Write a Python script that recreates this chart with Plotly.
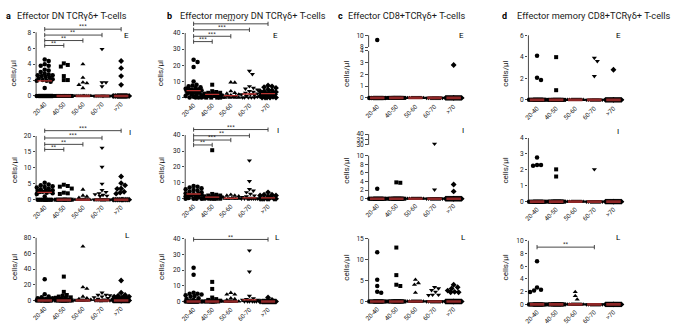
import plotly.graph_objects as go
import numpy as np

# ---------------- data ----------------
categories = ["20-40", "40-50", "50-60", "60-70", ">70"]
symbols = ["circle", "square", "triangle-up", "triangle-down", "diamond"]

titles = ["Effector DN TCRγδ+ T-cells", "Effector memory DN TCRγδ+ T-cells",
          "Effector CD8+TCRγδ+ T-cells", "Effector memory CD8+TCRγδ+ T-cells"]
letters = ["a", "b", "c", "d"]
tissue_tags = ["E", "I", "L"]

# non-zero values per age group ; number of zero values per age group
aE = [[4.6, 4.4, 4.0, 3.8, 3.8, 3.3, 3.2, 3.0, 2.8, 2.7, 2.6, 2.6, 2.5, 2.4, 2.3, 2.2, 2.1, 2.0, 1.9, 1.9, 1.8, 1.0],
      [4.1, 3.9, 3.7, 2.5, 2.0, 2.0],
      [4.0, 2.3, 1.7, 1.6, 1.4, 1.0],
      [5.9, 1.7, 1.7, 1.2],
      [4.4, 3.5, 2.5, 1.4]]
aE_zeros = [16, 10, 10, 10, 14]
aI = [[5.3, 4.8, 4.5, 4.2, 4.0, 3.8, 3.5, 3.3, 3.0, 3.0, 2.8, 2.6, 2.5, 2.4, 2.2, 2.0, 1.8, 1.0],
      [4.7, 4.3, 4.1, 3.5, 2.2, 2.0, 1.8],
      [3.2, 1.3, 1.0, 0.6],
      [16.3, 10.3, 5.0, 3.0, 2.4, 2.0, 1.7, 1.5, 1.2, 1.1],
      [7.3, 5.2, 4.5, 3.5, 3.4, 2.5, 2.2, 1.9]]
aI_zeros = [10, 10, 10, 12, 10]
aL = [[27, 8, 5, 4, 3, 3, 2, 2, 1.5, 1],
      [30.5, 11, 7, 6, 5, 4, 3.5, 3, 2, 1.5, 1],
      [69, 17, 15, 5, 3, 2, 1],
      [10, 7, 7, 6.5, 5, 4, 3, 2, 1],
      [25.5, 10, 7, 6, 5, 5, 4, 4, 3, 3, 2.5, 2, 2, 1.5, 1, 1, 0.5]]
aL_zeros = [12, 13, 9, 10, 19]

bE = [[23.5, 22, 19, 10, 8, 7.5, 7, 6.5, 6, 5.5, 5, 5, 4.8, 4.5, 4.5, 4.2, 4, 3.5, 3, 3, 2.5, 2, 2, 1.5, 1, 0.5],
      [8, 4, 3.5, 3, 3, 2.5, 2.5, 2, 2, 2, 1.5, 1, 1, 0.5],
      [9.5, 9.3, 4, 3, 2.5, 2, 1.5, 1.5, 1, 1, 0.5],
      [16.5, 14.5, 7, 6, 5.5, 5, 4, 3.5, 3, 2.5, 2, 2, 1.5, 1, 0.5],
      [7.5, 7, 6.5, 6, 5, 4.5, 4, 4, 3.5, 3, 3, 2.5, 2.5, 2, 2, 1.5, 1, 1, 0.5]]
bE_zeros = [4, 4, 5, 5, 5]
bI = [[8, 7.5, 7, 6.5, 6, 5.5, 5, 4.5, 4, 3.5, 3, 3, 2.5, 2.5, 2, 2, 1.5, 1, 0.5],
      [30.5, 3, 2.5, 2, 2, 1.5, 1.5, 1, 1, 0.5],
      [2.5, 2, 2, 1.5, 1, 0.5],
      [24, 11, 6, 5, 4, 3, 2, 1.5, 1, 0.5],
      [4, 2.5, 2.5, 2, 2, 1.5, 1]]
bI_zeros = [4, 6, 6, 9, 7]
bL = [[21.5, 17, 5.5, 5, 5, 4.5, 4, 3.5, 3, 2, 1.5, 1],
      [12.5, 8, 2.5, 1.5, 1, 0.5],
      [5.5, 4.5, 4.5, 2, 1.5, 1],
      [32.5, 19, 3.5, 2, 1.5, 1, 1, 1],
      [2.5, 1]]
bL_zeros = [14, 10, 10, 6, 16]

cE = [[9.2], [], [], [], [2.8]]
cE_zeros = [14, 14, 14, 14, 18]
cI = [[2.3], [3.8, 3.7], [], [31, 2.1], [3.3, 1.7]]
cI_zeros = [14, 14, 14, 14, 18]
cL = [[11.8, 5.2, 3.7, 2.3, 2.1], [12.9, 6.3, 4.0, 3.7], [5.2, 4.4, 4.0, 2.1],
      [3.4, 3.1, 2.7, 2.3, 1.6, 1.5, 1.6], [4.0, 3.4, 3.1, 2.6, 2.3, 2.2, 2.2]]
cL_zeros = [14, 14, 14, 14, 18]

dE = [[4.1, 2.05, 1.85], [3.97, 0.9], [], [3.9, 3.6, 2.2], [2.8]]
dE_zeros = [14, 14, 14, 14, 18]
dI = [[2.77, 2.3, 2.3, 2.25], [2.03, 1.58], [], [2.03], []]
dI_zeros = [14, 14, 14, 14, 18]
dL = [[6.8, 2.67, 2.3, 2.2, 1.95], [], [1.95, 1.33, 0.77], [], []]
dL_zeros = [14, 14, 14, 14, 18]

# significance: (compared group index vs 20-40, label)
sig_aE = [(1, "**"), (2, "**"), (3, "**"), (4, "***")]
sig_bE = [(1, "***"), (2, "***"), (3, "***"), (4, "***")]
sig_aI = [(1, "**"), (2, "**"), (3, "***"), (4, "***")]
sig_bI = [(1, "**"), (2, "***"), (3, "**"), (4, "***")]
sig_bL = [(4, "**")]
sig_dL = [(3, "**")]

# y tick values
yt_aE = [0, 2, 4, 6, 8]
yt_bE = [0, 10, 20, 30, 40]
yt_cE = [0, 1, 2, 3, 4]
yt_cE_up = [8, 10]
yt_dE = [0, 2, 4, 6]
yt_aI = [0, 5, 10, 15, 20]
yt_bI = [0, 10, 20, 30, 40]
yt_cI = [0, 2, 4, 6, 8, 10]
yt_cI_up = [30, 35, 40]
yt_dI = [0, 1, 2, 3, 4]
yt_aL = [0, 20, 40, 60, 80]
yt_bL = [0, 10, 20, 30, 40]
yt_cL = [0, 5, 10, 15]
yt_dL = [0, 2, 4, 6, 8, 10]

# ---------------- layout geometry ----------------
W, H = 675, 326
def X(px): return px / W
def Y(py): return 1 - py / H

FONT = "Liberation Sans Narrow, Roboto, Arial, sans-serif"
TXT = "#1a1a1a"
col_geom = {'a': (40, 19.25), 'b': (190, 18.75), 'c': (375, 19.25), 'd': (536, 19.25)}
XR = (-0.45, 4.55)

panels = [
    dict(col='a', data=aE, zeros=aE_zeros, y0=95, ppu=8.125, lo=-0.3, hi=8.75, tv=yt_aE, sig=sig_aE, bh=[6.35, 6.97, 7.66, 8.4], tag=0, tp=(122, 33)),
    dict(col='b', data=bE, zeros=bE_zeros, y0=96.7, ppu=1.65, lo=-1.2, hi=47.5, tv=yt_bE, sig=sig_bE, bh=[34.7, 38, 42, 45.7], tag=0, tp=(273, 33)),
    dict(col='c', data=cE, zeros=cE_zeros, y0=97, ppu=12, lo=-0.25, hi=4.1, tv=yt_cE, brk=dict(v0=8, p0=45, ppu=6, lo=7.9, hi=10.4, tv=yt_cE_up), tag=0, tp=(460, 33)),
    dict(col='d', data=dE, zeros=dE_zeros, y0=99, ppu=11, lo=-0.25, hi=6.5, tv=yt_dE, tag=0, tp=(618, 33)),
    dict(col='a', data=aI, zeros=aI_zeros, y0=201, ppu=3.25, lo=-0.6, hi=22.5, tv=yt_aI, sig=sig_aI, bh=[15.8, 17.4, 19.4, 21.7], tag=1, tp=(126, 132)),
    dict(col='b', data=bI, zeros=bI_zeros, y0=200, ppu=1.625, lo=-1.2, hi=45, tv=yt_bI, sig=sig_bI, bh=[33.8, 36.9, 39.6, 43.5], tag=1, tp=(275, 130)),
    dict(col='c', data=cI, zeros=cI_zeros, y0=200, ppu=4.4, lo=-0.35, hi=10.2, tv=yt_cI, brk=dict(v0=30, p0=145, ppu=1.1, lo=29.5, hi=41, tv=yt_cI_up), tag=1, tp=(461, 130)),
    dict(col='d', data=dI, zeros=dI_zeros, y0=203, ppu=16.25, lo=-0.12, hi=4.2, tv=yt_dI, tag=1, tp=(618, 131)),
    dict(col='a', data=aL, zeros=aL_zeros, y0=304, ppu=0.8, lo=-3, hi=84, tv=yt_aL, tag=2, tp=(123, 238)),
    dict(col='b', data=bL, zeros=bL_zeros, y0=305, ppu=1.6, lo=-1.5, hi=41.8, tv=yt_bL, sig=sig_bL, bh=[39.6], tag=2, tp=(275, 240)),
    dict(col='c', data=cL, zeros=cL_zeros, y0=305, ppu=4.27, lo=-0.45, hi=15.8, tv=yt_cL, tag=2, tp=(462, 240)),
    dict(col='d', data=dL, zeros=dL_zeros, y0=308, ppu=6.5, lo=-0.3, hi=10.4, tv=yt_dL, sig=sig_dL, bh=[9.0], tag=2, tp=(618, 240)),
]

def swarm(vals, ppu_y, sp, d=4.0, maxhalf=8.0):
    """simple beeswarm: returns x offsets (in category units)"""
    order = sorted(range(len(vals)), key=lambda i: -vals[i])
    placed = []
    offs = [0.0] * len(vals)
    cands = [0.0]
    k = 1
    while k * 1.0 <= maxhalf:
        cands += [k * 1.0, -k * 1.0]
        k += 1
    for i in order:
        ypx = vals[i] * ppu_y
        best, bestd = 0.0, -1
        chosen = None
        for c in cands:
            md = min([np.hypot(c - px, ypx - py) for px, py in placed] + [99])
            if md >= d:
                chosen = c
                break
            if md > bestd:
                bestd, best = md, c
        if chosen is None:
            chosen = best
        placed.append((chosen, ypx))
        offs[i] = chosen / sp
    return offs

fig = go.Figure()
layout = {}
shapes = []
ann = []
n = 0

def make_axes(xd, dom_px, rng, tv, main):
    global n
    n += 1
    xa = 'x' if n == 1 else f'x{n}'
    ya = 'y' if n == 1 else f'y{n}'
    layout['xaxis' if n == 1 else f'xaxis{n}'] = dict(
        domain=xd, range=list(XR), anchor=ya, tickmode='array', tickvals=list(range(5)),
        ticktext=categories, showticklabels=main, tickangle=-45,
        tickfont=dict(size=6.3, color=TXT, family=FONT), showgrid=False, zeroline=False,
        showline=False, ticks='', fixedrange=True)
    layout['yaxis' if n == 1 else f'yaxis{n}'] = dict(
        domain=[Y(dom_px[0]), Y(dom_px[1])], range=list(rng), anchor=xa, tickmode='array',
        tickvals=tv, ticks='outside', ticklen=2.5, tickwidth=0.8, tickcolor=TXT,
        tickfont=dict(size=6.6, color=TXT, family=FONT), showgrid=False, zeroline=False,
        showline=False, fixedrange=True)
    xd_ref = ('x' if n == 1 else f'x{n}') + ' domain'
    shapes.append(dict(type='line', xref=xd_ref, yref=ya, x0=0, x1=0, y0=tv[0], y1=tv[-1],
                       line=dict(color=TXT, width=0.8), layer='below'))
    return xa, ya, xd_ref

def txt(x, y, text, size, color=TXT, angle=0):
    return dict(x=X(x), y=Y(y), xref='paper', yref='paper', text=text, showarrow=False,
                xanchor='center', yanchor='middle', textangle=angle,
                font=dict(size=size, color=color, family=FONT))

for p in panels:
    c0, sp = col_geom[p['col']]
    xd = [X(c0 + XR[0] * sp), X(c0 + XR[1] * sp)]
    bot = p['y0'] - p['lo'] * p['ppu']
    top = p['y0'] - p['hi'] * p['ppu']
    xa, ya, xdref = make_axes(xd, (bot, top), (p['lo'], p['hi']), p['tv'], True)
    shapes.append(dict(type='line', xref=xdref, yref=ya, x0=0, x1=1, y0=0, y1=0,
                       line=dict(color=TXT, width=0.8), layer='below'))
    up = None
    if 'brk' in p:
        b = p['brk']
        ubot = b['p0'] - (b['lo'] - b['v0']) * b['ppu']
        utop = b['p0'] - (b['hi'] - b['v0']) * b['ppu']
        up = make_axes(xd, (ubot, utop), (b['lo'], b['hi']), b['tv'], False)
    for g in range(5):
        vals = list(p['data'][g]) + [0.0] * p['zeros'][g]
        lower = [v for v in vals if v <= p['hi']]
        upper = [v for v in vals if v > p['hi']]
        for subset, (axx, axy, ppu_y) in [(lower, (xa, ya, p['ppu'])),
                                         (upper, (up[0], up[1], p['brk']['ppu']) if up else (xa, ya, p['ppu']))]:
            if not subset:
                continue
            offs = swarm(subset, ppu_y, sp)
            fig.add_trace(go.Scatter(
                x=[g + o for o in offs], y=subset, mode='markers', xaxis=axx, yaxis=axy,
                marker=dict(symbol=symbols[g], size=4.5 if g != 1 else 4.0, color='black',
                            line=dict(width=0)),
                hoverinfo='skip', cliponaxis=False))
        med = float(np.median(vals))
        fig.add_trace(go.Scatter(x=[g - 0.38, g + 0.38], y=[med, med], mode='lines',
                                 xaxis=xa, yaxis=ya,
                                 line=dict(color='#8e2626' if med == 0 else '#b8322f',
                                           width=2.6 if med == 0 else 1.4),
                                 hoverinfo='skip'))
    for (j, lab), h in zip(p.get('sig', []), p.get('bh', [])):
        cap = 2.2 / p['ppu']
        fig.add_trace(go.Scatter(x=[0, 0, None, 0, j, None, j, j],
                                 y=[h - cap, h + cap, None, h, h, None, h - cap, h + cap],
                                 mode='lines', xaxis=xa, yaxis=ya,
                                 line=dict(color='#333', width=0.9), hoverinfo='skip'))
        ann.append(dict(x=j / 2, y=h, xref=xa, yref=ya, text=lab, showarrow=False, yshift=3.2,
                        xanchor='center', yanchor='middle',
                        font=dict(size=6, color=TXT, family=FONT)))
    ann.append(txt(p['tp'][0], p['tp'][1], tissue_tags[p['tag']], 8, color='#000'))

# titles & letters
title_cx = [68, 250, 404, 593]
letter_x = [4, 166, 338, 503]
for i in range(4):
    ann.append(txt(title_cx[i], 13, titles[i], 9.2))
    ann.append(txt(letter_x[i], 13, f"<b>{letters[i]}</b>", 9, color='#000'))

# y axis titles
ytitle_x = [9, 157, 344, 504]
ytitle_y = [72, 171, 270]
for cx in ytitle_x:
    for cy in ytitle_y:
        ann.append(txt(cx, cy, "cells/µl", 8, angle=-90))

fig.update_layout(**layout)
fig.update_layout(width=W, height=H, margin=dict(l=0, r=0, t=0, b=0),
                  paper_bgcolor='white', plot_bgcolor='white', showlegend=False,
                  shapes=shapes, annotations=ann, font=dict(family=FONT))
fig.write_html("out.html", config={'displayModeBar': False, 'staticPlot': True},
               post_script="document.body.style.margin='0px';document.body.style.padding='0px';")
